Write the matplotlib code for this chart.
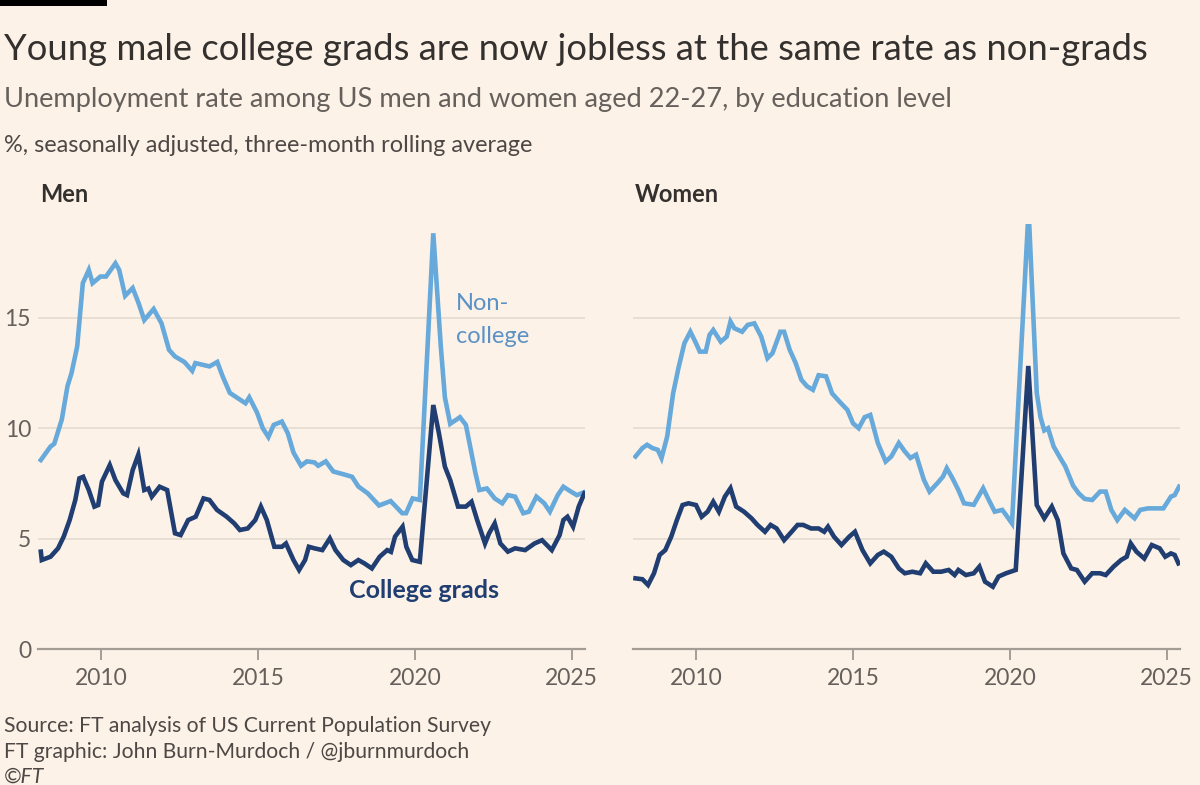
import matplotlib
matplotlib.use('Agg')
import matplotlib.pyplot as plt
from matplotlib.patches import Rectangle

# Values (decimal year, % unemployed)
men_noncollege_year = [2008.07, 2008.38, 2008.5, 2008.74, 2008.92, 2009.05, 2009.23, 2009.41, 2009.6, 2009.72,
                       2009.97, 2010.15, 2010.45, 2010.57, 2010.76, 2011.0, 2011.18, 2011.37, 2011.67, 2011.92,
                       2012.16, 2012.35, 2012.65, 2012.9, 2013.0, 2013.45, 2013.7, 2013.87, 2014.1, 2014.6,
                       2014.72, 2014.97, 2015.15, 2015.33, 2015.5, 2015.76, 2015.95, 2016.13, 2016.37, 2016.56,
                       2016.8, 2016.92, 2017.16, 2017.4, 2017.76, 2018.0, 2018.2, 2018.5, 2018.86, 2019.23,
                       2019.6, 2019.72, 2019.93, 2020.16, 2020.59, 2020.83, 2020.96, 2021.13, 2021.44, 2021.63,
                       2021.93, 2022.06, 2022.3, 2022.55, 2022.79, 2022.97, 2023.2, 2023.46, 2023.64, 2023.88,
                       2024.13, 2024.31, 2024.56, 2024.74, 2024.98, 2025.17, 2025.4]
men_noncollege = [8.56, 9.17, 9.3, 10.4, 11.9, 12.5, 13.7, 16.57, 17.17, 16.57,
                  16.87, 16.87, 17.47, 17.17, 16.0, 16.35, 15.7, 14.9, 15.4, 14.75,
                  13.55, 13.25, 13.0, 12.6, 12.95, 12.8, 13.0, 12.35, 11.6, 11.13,
                  11.4, 10.7, 10.0, 9.6, 10.15, 10.3, 9.77, 8.9, 8.3, 8.5,
                  8.45, 8.3, 8.5, 8.04, 7.9, 7.8, 7.36, 7.05, 6.5, 6.7,
                  6.15, 6.15, 6.82, 6.75, 18.83, 13.7, 11.4, 10.2, 10.5, 10.15,
                  8.0, 7.2, 7.27, 6.82, 6.6, 6.97, 6.9, 6.15, 6.22, 6.9,
                  6.6, 6.22, 6.97, 7.35, 7.13, 6.97, 7.1]

men_college_year = [2008.07, 2008.1, 2008.38, 2008.62, 2008.8, 2008.99, 2009.17, 2009.3, 2009.42, 2009.6,
                    2009.78, 2009.9, 2010.02, 2010.27, 2010.45, 2010.7, 2010.82, 2011.0, 2011.18, 2011.37,
                    2011.5, 2011.61, 2011.86, 2012.1, 2012.35, 2012.53, 2012.77, 2013.01, 2013.26, 2013.45,
                    2013.69, 2014.0, 2014.24, 2014.42, 2014.67, 2014.91, 2015.09, 2015.28, 2015.52, 2015.76,
                    2015.89, 2016.13, 2016.31, 2016.5, 2016.62, 2016.8, 2017.05, 2017.29, 2017.47, 2017.72,
                    2017.96, 2018.2, 2018.39, 2018.63, 2018.88, 2019.12, 2019.24, 2019.37, 2019.61, 2019.73,
                    2019.92, 2020.16, 2020.59, 2020.77, 2020.96, 2021.13, 2021.38, 2021.63, 2021.81, 2021.99,
                    2022.24, 2022.37, 2022.55, 2022.73, 2022.97, 2023.2, 2023.52, 2023.82, 2024.06, 2024.37,
                    2024.62, 2024.74, 2024.87, 2025.05, 2025.23, 2025.41]
men_college = [4.41, 4.03, 4.18, 4.56, 5.09, 5.84, 6.75, 7.73, 7.8, 7.2,
               6.45, 6.52, 7.58, 8.33, 7.65, 7.05, 6.97, 8.1, 8.8, 7.2,
               7.27, 6.9, 7.35, 7.2, 5.24, 5.16, 5.84, 5.99, 6.82, 6.75,
               6.3, 5.99, 5.69, 5.39, 5.46, 5.84, 6.45, 5.84, 4.63, 4.63,
               4.78, 4.03, 3.58, 4.03, 4.63, 4.56, 4.48, 5.01, 4.48, 4.03,
               3.8, 4.03, 3.88, 3.65, 4.18, 4.48, 4.4, 5.09, 5.54, 4.63,
               4.03, 3.95, 11.05, 9.77, 8.26, 7.65, 6.45, 6.45, 6.67, 5.84,
               4.78, 5.24, 5.69, 4.78, 4.41, 4.56, 4.48, 4.78, 4.93, 4.48,
               5.16, 5.84, 5.99, 5.54, 6.45, 7.05]

women_noncollege_year = [2008.06, 2008.28, 2008.43, 2008.6, 2008.77, 2008.89, 2009.07, 2009.26, 2009.44, 2009.62,
                         2009.81, 2009.99, 2010.11, 2010.3, 2010.42, 2010.54, 2010.78, 2010.97, 2011.09, 2011.21,
                         2011.46, 2011.64, 2011.85, 2012.07, 2012.27, 2012.43, 2012.68, 2012.8, 2012.98, 2013.17,
                         2013.35, 2013.53, 2013.72, 2013.9, 2014.14, 2014.33, 2014.57, 2014.82, 2015.0, 2015.18,
                         2015.37, 2015.55, 2015.79, 2016.04, 2016.22, 2016.46, 2016.65, 2016.83, 2017.01, 2017.26,
                         2017.44, 2017.69, 2017.87, 2017.99, 2018.17, 2018.36, 2018.54, 2018.85, 2019.03, 2019.15,
                         2019.33, 2019.52, 2019.76, 2019.88, 2020.07, 2020.6, 2020.86, 2020.98, 2021.1, 2021.22,
                         2021.4, 2021.59, 2021.77, 2022.02, 2022.2, 2022.39, 2022.63, 2022.88, 2023.06, 2023.24,
                         2023.43, 2023.67, 2023.98, 2024.16, 2024.41, 2024.65, 2024.9, 2025.14, 2025.26, 2025.4]
women_noncollege = [8.72, 9.1, 9.25, 9.1, 9.02, 8.65, 9.62, 11.58, 12.79, 13.85,
                    14.37, 13.85, 13.47, 13.47, 14.22, 14.45, 13.92, 14.15, 14.83, 14.53,
                    14.37, 14.68, 14.75, 14.15, 13.17, 13.4, 14.37, 14.37, 13.55, 12.95,
                    12.2, 11.9, 11.74, 12.4, 12.35, 11.58, 11.2, 10.83, 10.22, 10.0,
                    10.5, 10.6, 9.33, 8.49, 8.72, 9.33, 8.95, 8.65, 8.8, 7.66,
                    7.13, 7.51, 7.81, 8.19, 7.74, 7.2, 6.6, 6.53, 6.98, 7.28,
                    6.75, 6.22, 6.3, 6.07, 5.69, 19.9, 11.6, 10.5, 9.9, 10.0,
                    9.17, 8.7, 8.27, 7.4, 7.05, 6.8, 6.75, 7.13, 7.13, 6.3,
                    5.84, 6.3, 5.92, 6.3, 6.37, 6.37, 6.37, 6.9, 6.97, 7.35]

women_college_year = [2008.06, 2008.28, 2008.46, 2008.65, 2008.83, 2009.01, 2009.2, 2009.38, 2009.56, 2009.75,
                      2009.99, 2010.17, 2010.36, 2010.54, 2010.72, 2010.91, 2011.09, 2011.27, 2011.52, 2011.76,
                      2011.95, 2012.19, 2012.37, 2012.56, 2012.8, 2013.04, 2013.23, 2013.41, 2013.66, 2013.9,
                      2014.08, 2014.2, 2014.39, 2014.63, 2014.88, 2015.06, 2015.3, 2015.55, 2015.79, 2015.98,
                      2016.22, 2016.46, 2016.65, 2016.89, 2017.14, 2017.32, 2017.56, 2017.81, 2018.05, 2018.24,
                      2018.36, 2018.6, 2018.85, 2019.03, 2019.21, 2019.46, 2019.64, 2019.88, 2020.19, 2020.59,
                      2020.86, 2021.1, 2021.34, 2021.53, 2021.71, 2021.96, 2022.14, 2022.39, 2022.63, 2022.88,
                      2023.06, 2023.31, 2023.55, 2023.73, 2023.86, 2024.04, 2024.29, 2024.53, 2024.78, 2024.96,
                      2025.14, 2025.26, 2025.38]
women_college = [3.2, 3.16, 2.9, 3.43, 4.26, 4.48, 5.09, 5.84, 6.52, 6.6,
                 6.52, 5.99, 6.22, 6.67, 6.22, 6.9, 7.28, 6.45, 6.22, 5.92,
                 5.62, 5.31, 5.62, 5.46, 4.93, 5.31, 5.62, 5.62, 5.46, 5.46,
                 5.31, 5.54, 5.09, 4.71, 5.09, 5.31, 4.48, 3.88, 4.26, 4.41,
                 4.18, 3.65, 3.43, 3.5, 3.43, 3.88, 3.5, 3.5, 3.58, 3.35,
                 3.58, 3.35, 3.43, 3.73, 3.05, 2.82, 3.28, 3.43, 3.58, 12.82,
                 6.52, 5.92, 6.45, 5.84, 4.33, 3.65, 3.58, 3.05, 3.43, 3.43,
                 3.35, 3.73, 4.03, 4.18, 4.78, 4.41, 4.1, 4.71, 4.56, 4.18,
                 4.33, 4.26, 3.88]

year_ticks = [2010, 2015, 2020, 2025]
value_ticks = [0, 5, 10, 15]

# Colours
bg = '#FCF2E7'
light_blue = '#66A9DA'
light_text = '#5B92C6'
navy = '#203E72'
grid_col = '#E6DDD2'
axis_col = '#A39D96'
tick_col = '#66605C'

plt.rcParams['font.family'] = ['Lato', 'DejaVu Sans']

W, H = 1200, 785
fig = plt.figure(figsize=(W / 100, H / 100), dpi=100, facecolor=bg)


def fx(px):
    return px / W


def fy(py):
    return 1 - py / H


# Black bar at top left
fig.add_artist(Rectangle((0, fy(6)), fx(107), 6 / H, transform=fig.transFigure,
                         facecolor='black', edgecolor='none'))

fig.text(fx(4), fy(60), 'Young male college grads are now jobless at the same rate as non-grads',
         fontsize=26.2, color='#33302E', va='baseline')
fig.text(fx(4), fy(107), 'Unemployment rate among US men and women aged 22-27, by education level',
         fontsize=19.6, color='#66605C', va='baseline')
fig.text(fx(4), fy(152), '%, seasonally adjusted, three-month rolling average',
         fontsize=16.9, color='#4D4845', va='baseline')

ax_bottom = fy(649)
ax_height = (649 - 224) / H
ax_men = fig.add_axes([fx(38), ax_bottom, fx(585 - 38), ax_height])
ax_women = fig.add_axes([fx(633), ax_bottom, fx(1180 - 633), ax_height])

panels = [
    (ax_men, 'Men', men_noncollege_year, men_noncollege, men_college_year, men_college),
    (ax_women, 'Women', women_noncollege_year, women_noncollege, women_college_year, women_college),
]

for ax, name, x_nc, y_nc, x_c, y_c in panels:
    ax.set_facecolor(bg)
    ax.plot(x_nc, y_nc, color=light_blue, lw=3.3, solid_joinstyle='miter', zorder=3)
    ax.plot(x_c, y_c, color=navy, lw=3.3, solid_joinstyle='miter', zorder=4)
    ax.set_xlim(2007.98, 2025.43)
    ax.set_ylim(0, 19.25)
    for v in value_ticks[1:]:
        ax.axhline(v, color=grid_col, lw=1.3, zorder=1)
    for s in ['top', 'right', 'left']:
        ax.spines[s].set_visible(False)
    ax.spines['bottom'].set_color(axis_col)
    ax.spines['bottom'].set_linewidth(1.6)
    ax.set_xticks(year_ticks)
    ax.set_xticklabels([str(y) for y in year_ticks])
    ax.tick_params(axis='x', length=8, width=1.4, color=axis_col, labelcolor=tick_col,
                   labelsize=16.5, pad=6)
    ax.set_yticks(value_ticks)
    ax.tick_params(axis='y', length=0, labelcolor=tick_col, labelsize=16.5, pad=5)
    ax.text(0.004, 1 + 22 / (649 - 224), name, transform=ax.transAxes, fontsize=17,
            fontweight='bold', color='#33302E', va='baseline')

ax_women.set_yticklabels([])

# Direct labels
ax_men.text(2021.31, 15.36, 'Non-', color=light_text, fontsize=17, va='baseline')
ax_men.text(2021.31, 13.86, 'college', color=light_text, fontsize=17, va='baseline')
ax_men.text(2017.9, 2.31, 'College grads', color=navy, fontsize=18, fontweight='bold',
            va='baseline')

fig.text(fx(4), fy(732), 'Source: FT analysis of US Current Population Survey',
         fontsize=15.2, color='#4D4845', va='baseline')
fig.text(fx(4), fy(758), 'FT graphic: John Burn-Murdoch / @jburnmurdoch',
         fontsize=15.2, color='#4D4845', va='baseline')
fig.text(fx(4), fy(783), '©FT', fontsize=15.2, color='#4D4845', va='baseline', style='italic')

fig.savefig('out.png', dpi=100, facecolor=bg)
